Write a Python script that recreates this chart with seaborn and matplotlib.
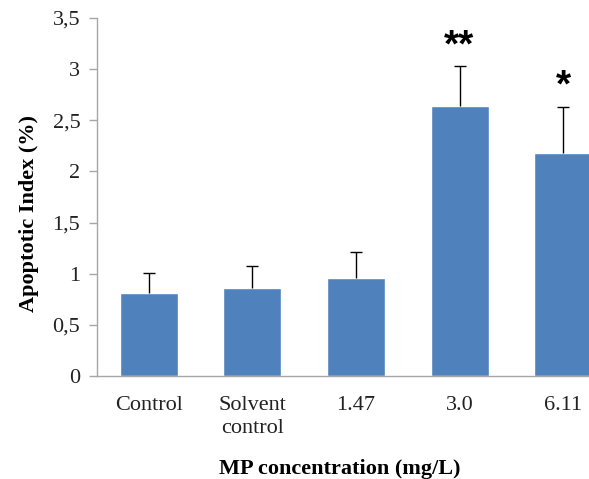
import matplotlib
matplotlib.use('Agg')
import matplotlib.pyplot as plt
import seaborn as sns
import pandas as pd
from matplotlib.ticker import FuncFormatter

groups = ['Control', 'Solvent\ncontrol', '1.47', '3.0', '6.11']
means = [0.81, 0.86, 0.96, 2.64, 2.18]
sd = [0.20, 0.215, 0.255, 0.39, 0.45]
stars = ['', '', '', '**', '*']

df = pd.DataFrame({'group': groups, 'mean': means})

sns.set_style('white')
plt.rcParams['font.family'] = ['Liberation Serif', 'DejaVu Serif']

fig = plt.figure(figsize=(5.89, 4.79), dpi=100)
ax = fig.add_axes([0.1647, 0.215, 0.8353, 0.7474])

sns.barplot(data=df, x='group', y='mean', color='#4F81BD', saturation=1,
            width=0.56, ax=ax)
# upper error bars only
eb = ax.errorbar(range(len(groups)), means, yerr=[[0] * len(sd), sd], fmt='none',
                 ecolor='black', elinewidth=1, capsize=4, capthick=1)
eb[1][0].set_visible(False)

for i, s in enumerate(stars):
    if s:
        ax.text(i, means[i] + sd[i] + 0.02, s, ha='center', va='bottom',
                fontsize=28, fontweight='bold', color='black',
                family=['Liberation Sans', 'DejaVu Sans'])

ax.set_ylim(0, 3.5)
ax.set_xlim(-0.5, 4.25)
ax.set_yticks([0, 0.5, 1, 1.5, 2, 2.5, 3, 3.5])
ax.yaxis.set_major_formatter(FuncFormatter(lambda v, p: f'{v:g}'.replace('.', ',')))

for sp in ['top', 'right']:
    ax.spines[sp].set_visible(False)
for sp in ['left', 'bottom']:
    ax.spines[sp].set_color('#A6A6A6')
    ax.spines[sp].set_linewidth(1)

ax.tick_params(axis='y', left=True, length=6, width=1, color='#A6A6A6',
               labelsize=16, pad=6, labelcolor='#222222')
ax.tick_params(axis='x', bottom=False, labelsize=16, pad=11, labelcolor='#222222')
for lab in ax.get_xticklabels():
    lab.set_linespacing(1.25)

ax.set_xlabel('MP concentration (mg/L)', fontsize=16, fontweight='bold', color='black')
ax.xaxis.set_label_coords(0.494, -0.232)
ax.set_ylabel('Apoptotic Index (%)', fontsize=16, fontweight='bold', color='black')
ax.yaxis.set_label_coords(-0.118, 0.455)

plt.savefig('out.png', dpi=100)
